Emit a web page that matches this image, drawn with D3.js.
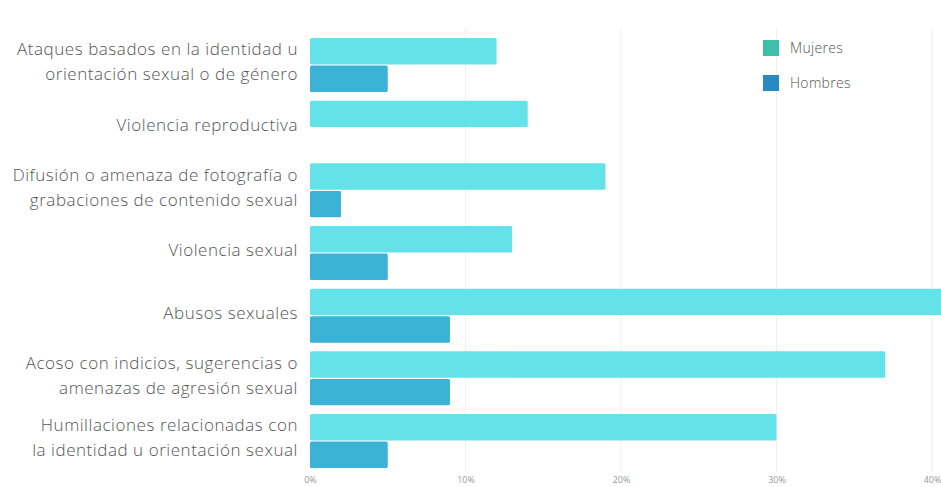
<!DOCTYPE html>
<html>
<head>
<meta charset="utf-8">
<script src="https://cdn.jsdelivr.net/npm/d3@7"></script>
<style>
  body { margin: 0; background: #fff; }
  svg { display: block; font-family: "Open Sans", sans-serif; }
</style>
</head>
<body>
<svg id="chart" width="941" height="487"></svg>
<script>
// categories (each label split in lines as shown)
const categories = [
  ['Ataques basados en la identidad u', 'orientación sexual o de género'],
  ['Violencia reproductiva'],
  ['Difusión o amenaza de fotografía o', 'grabaciones de contenido sexual'],
  ['Violencia sexual'],
  ['Abusos sexuales'],
  ['Acoso con indicios, sugerencias o', 'amenazas de agresión sexual'],
  ['Humillaciones relacionadas con', 'la identidad u orientación sexual']
];
const seriesNames = ['Mujeres', 'Hombres'];
const mujeres = [12, 14, 19, 13, 41, 37, 30];
const hombres = [5, 0, 2, 5, 9, 9, 5];
const ticks = [0, 10, 20, 30, 40];

const barColors = { Mujeres: '#64e2ea', Hombres: '#3bb3d7' };
const legendColors = { Mujeres: '#3ebfab', Hombres: '#2a89c1' };

const svg = d3.select('#chart');
const keys = categories.map((c, i) => i);

const x = d3.scaleLinear().domain([0, 40]).range([310, 932]);
const y = d3.scaleBand().domain(keys).range([29.3, 476.7]).padding(0.139);
const ySub = d3.scaleBand().domain(seriesNames).range([0, y.bandwidth()]).paddingInner(0.04);

// gridlines
svg.append('g')
  .selectAll('line')
  .data(ticks.slice(1))
  .enter().append('line')
  .attr('x1', d => x(d)).attr('x2', d => x(d))
  .attr('y1', 28).attr('y2', 472)
  .style('stroke', '#f0f0f0')
  .style('stroke-width', 1);

// bars
const rows = keys.map(i => ({ i, Mujeres: mujeres[i], Hombres: hombres[i] }));
const group = svg.append('g')
  .selectAll('g')
  .data(rows)
  .enter().append('g')
  .attr('transform', d => `translate(0,${y(d.i)})`);

group.selectAll('rect')
  .data(d => seriesNames.map(s => ({ s, v: d[s] })))
  .enter().append('rect')
  .attr('x', x(0))
  .attr('y', d => ySub(d.s))
  .attr('width', d => x(d.v) - x(0))
  .attr('height', ySub.bandwidth())
  .attr('rx', 1.5)
  .style('fill', d => barColors[d.s]);

// category labels
const labels = svg.append('g')
  .selectAll('text')
  .data(rows)
  .enter().append('text')
  .attr('text-anchor', 'end')
  .style('font-size', '17px')
  .style('letter-spacing', '0.55px')
  .style('font-weight', 300)
  .style('fill', '#555');

labels.each(function (d) {
  const lines = categories[d.i];
  const lh = 25;
  const cy = y(d.i) + y.bandwidth() / 2 - 3;
  const top = cy - (lines.length - 1) * lh / 2;
  d3.select(this).selectAll('tspan')
    .data(lines)
    .enter().append('tspan')
    .attr('x', 298)
    .attr('y', (l, k) => top + k * lh)
    .attr('dy', '0.35em')
    .text(l => l);
});

// x axis tick labels
const xAxis = d3.axisBottom(x).tickValues(ticks).tickFormat(d => d + '%').tickSize(0);
const ax = svg.append('g').attr('transform', 'translate(0,474)').call(xAxis);
ax.select('.domain').remove();
ax.selectAll('text')
  .style('font-family', '"Open Sans", sans-serif')
  .style('font-size', '9px')
  .style('fill', '#999');

// legend
const legend = svg.append('g')
  .selectAll('g')
  .data(seriesNames)
  .enter().append('g')
  .attr('transform', (d, i) => `translate(763,${40 + i * 35})`);
legend.append('rect')
  .attr('width', 16).attr('height', 16)
  .style('fill', d => legendColors[d]);
legend.append('text')
  .attr('x', 27).attr('y', 8).attr('dy', '0.35em')
  .style('font-size', '14px')
  .style('font-weight', 300)
  .style('letter-spacing', '0.3px')
  .style('fill', '#555')
  .text(d => d);
</script>
</body>
</html>
